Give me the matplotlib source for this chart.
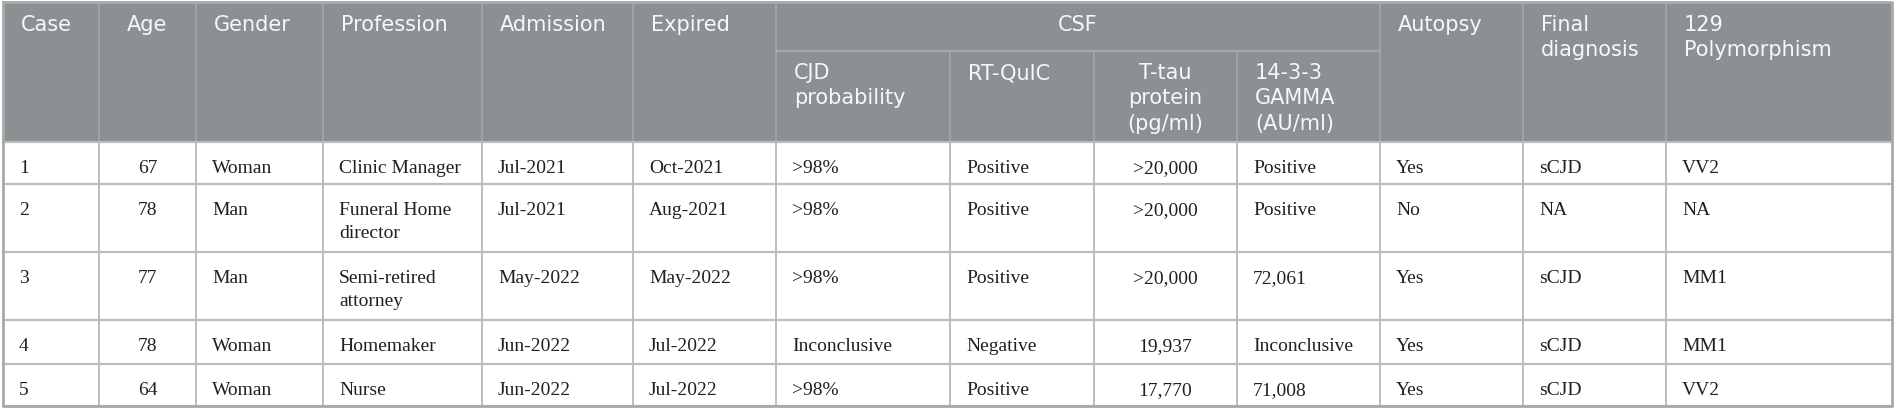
import matplotlib.pyplot as plt
from matplotlib.patches import Rectangle

# table content
case = ["1", "2", "3", "4", "5"]
age = ["67", "78", "77", "78", "64"]
gender = ["Woman", "Man", "Man", "Woman", "Woman"]
profession = ["Clinic Manager", "Funeral Home\ndirector", "Semi-retired\nattorney", "Homemaker", "Nurse"]
admission = ["Jul-2021", "Jul-2021", "May-2022", "Jun-2022", "Jun-2022"]
expired = ["Oct-2021", "Aug-2021", "May-2022", "Jul-2022", "Jul-2022"]
cjd_prob = [">98%", ">98%", ">98%", "Inconclusive", ">98%"]
rt_quic = ["Positive", "Positive", "Positive", "Negative", "Positive"]
t_tau = [">20,000", ">20,000", ">20,000", "19,937", "17,770"]
gamma = ["Positive", "Positive", "72,061", "Inconclusive", "71,008"]
autopsy = ["Yes", "No", "Yes", "Yes", "Yes"]
final_dx = ["sCJD", "NA", "sCJD", "sCJD", "sCJD"]
polymorph = ["VV2", "NA", "MM1", "MM1", "VV2"]

headers = ["Case", "Age", "Gender", "Profession", "Admission", "Expired",
           "CJD\nprobability", "RT-QuIC", "T-tau\nprotein\n(pg/ml)",
           "14-3-3\nGAMMA\n(AU/ml)", "Autopsy", "Final\ndiagnosis", "129\nPolymorphism"]
group_label = "CSF"
group_cols = (6, 9)  # first and last column under CSF

columns = [case, age, gender, profession, admission, expired, cjd_prob,
           rt_quic, t_tau, gamma, autopsy, final_dx, polymorph]
head_align = ["left", "center", "left", "left", "left", "left", "left",
              "left", "center", "left", "left", "left", "left"]
body_align = ["left", "center", "left", "left", "left", "left", "left",
              "left", "center", "left", "left", "left", "left"]

# layout in pixels
W, H = 1897, 410
xs = [3, 99, 196, 323, 482, 633, 776, 950, 1094, 1237, 1380, 1523, 1666, 1892]
top, split, head_bot = 3, 52, 143
ys = [143, 185, 253, 321, 365, 407]

head_bg = "#8b9093"
head_line = "#a4a8aa"
grid = "#bcbcbc"
head_fc = "#f7f7f7"
body_fc = "#231f20"

fig = plt.figure(figsize=(W / 100, H / 100), dpi=100)
ax = fig.add_axes([0, 0, 1, 1])
ax.set_xlim(0, W)
ax.set_ylim(H, 0)
ax.axis("off")

# header background
ax.add_patch(Rectangle((xs[0], top), xs[-1] - xs[0], head_bot - top,
                       facecolor=head_bg, edgecolor="none", zorder=0))

# header lines
g0, g1 = group_cols
ax.plot([xs[g0], xs[g1 + 1]], [split, split], color=head_line, lw=1.5, zorder=1)
for i, x in enumerate(xs[1:-1], start=1):
    if g0 < i <= g1:
        ax.plot([x, x], [split, head_bot], color=head_line, lw=1.2, zorder=1)
    else:
        ax.plot([x, x], [top, head_bot], color=head_line, lw=1.2, zorder=1)

# body lines
for y in ys:
    ax.plot([xs[0], xs[-1]], [y, y], color=grid, lw=1.6, zorder=2)
for x in xs[1:-1]:
    ax.plot([x, x], [ys[0], ys[-1]], color=grid, lw=1.4, zorder=2)
# outer border
ax.plot([xs[0], xs[-1], xs[-1], xs[0], xs[0]], [top, top, ys[-1], ys[-1], top],
        color="#a9a9a9", lw=2, zorder=3)


def put(text, x0, x1, base, align, pad, step, **kw):
    for k, line in enumerate(text.split("\n")):
        if align == "center":
            x, ha = (x0 + x1) / 2, "center"
        else:
            x, ha = x0 + pad, "left"
        ax.text(x, base + k * step, line, ha=ha, va="baseline", **kw)


hkw = dict(fontsize=15, family="DejaVu Sans", color=head_fc, zorder=4)
bkw = dict(fontsize=14, family="Liberation Serif", color=body_fc, zorder=4)

for j, h in enumerate(headers):
    base = 79 if g0 <= j <= g1 else 31
    put(h, xs[j], xs[j + 1], base, head_align[j], 18, 25.5, **hkw)
put(group_label, xs[g0], xs[g1 + 1], 31, "center", 0, 0, **hkw)

for j, col in enumerate(columns):
    for r, val in enumerate(col):
        put(val, xs[j], xs[j + 1], ys[r] + 30, body_align[j], 16, 23, **bkw)

fig.savefig("out.png", dpi=100)
